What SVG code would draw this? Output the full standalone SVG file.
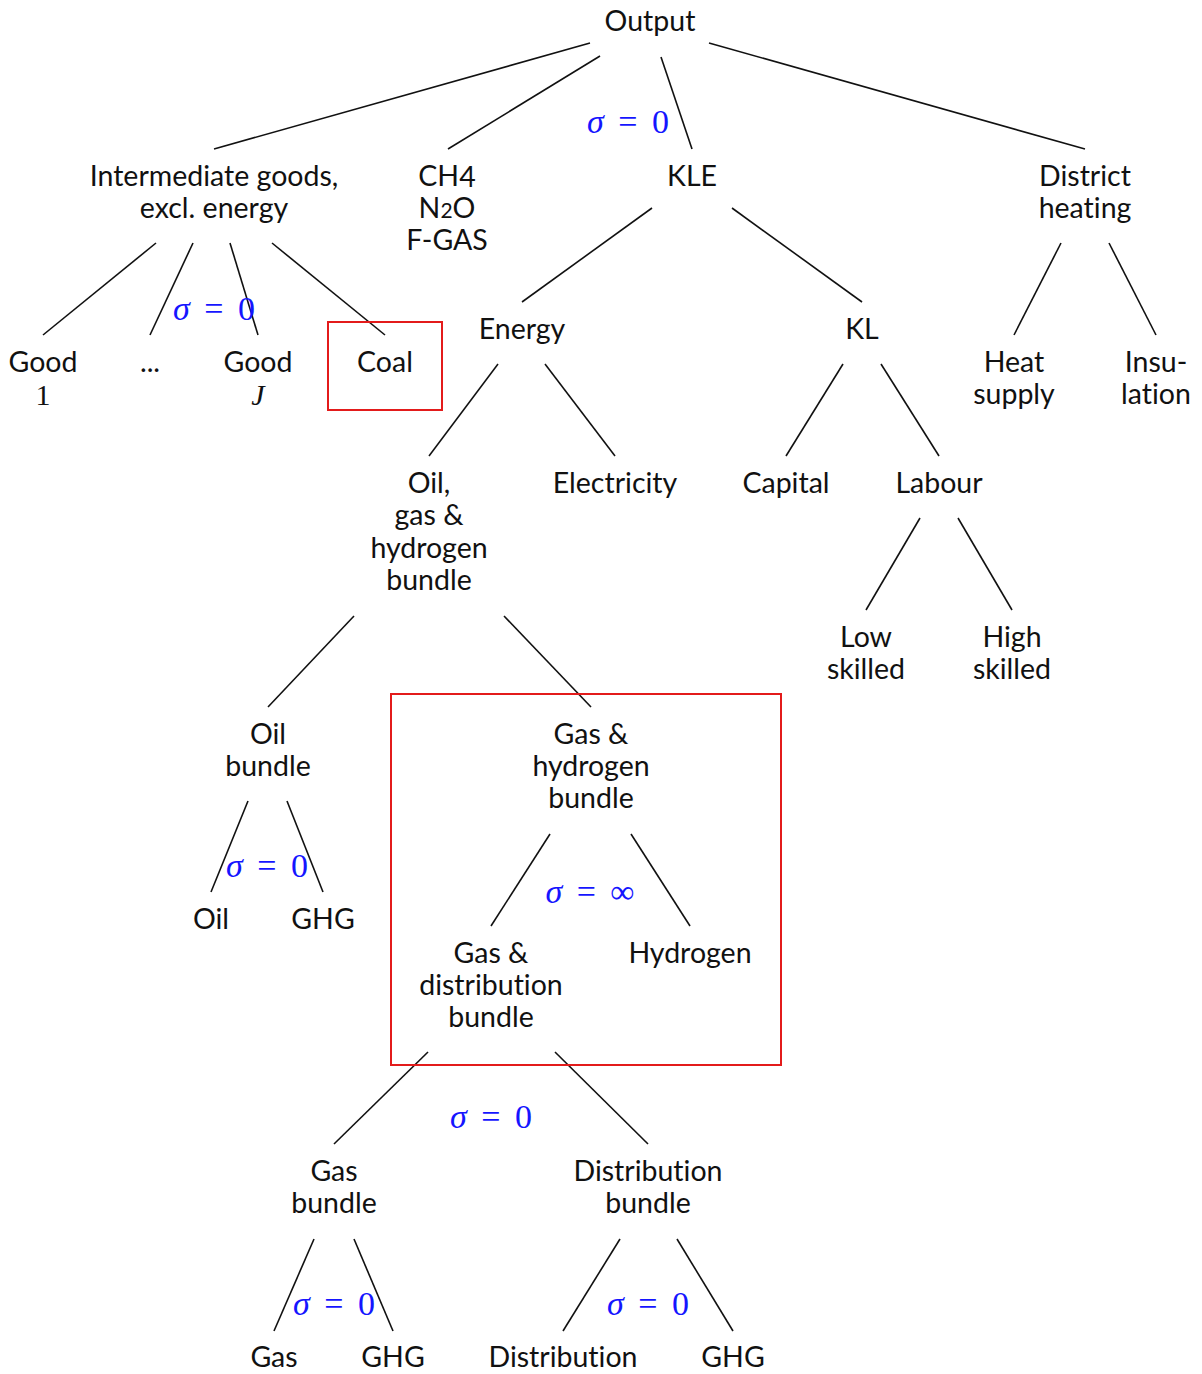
<svg xmlns="http://www.w3.org/2000/svg" width="1202" height="1374" viewBox="0 0 1202 1374">
<style>
.t{font-family:Lato,"Noto Sans","Liberation Sans",sans-serif;font-size:28.5px;fill:#111;text-anchor:middle;font-variant-ligatures:none}
.m{font-family:"Liberation Serif","DejaVu Serif",serif;font-size:30px;fill:#111;text-anchor:middle}
.s{font-family:"Liberation Serif","DejaVu Serif",serif;font-size:34px;fill:#1515ff;text-anchor:middle;word-spacing:6px}
.s tspan.g{font-style:italic}
.e line{stroke:#111;stroke-width:1.6}
.box{fill:none;stroke:#e31b1b;stroke-width:2}
</style>
<rect width="1202" height="1374" fill="#fff"/>
<g class="e" id="connectors">
<line x1="590" y1="43" x2="214" y2="149"/>
<line x1="600" y1="56" x2="448" y2="149"/>
<line x1="661" y1="57" x2="692" y2="149"/>
<line x1="709" y1="43" x2="1085" y2="149"/>
<line x1="156" y1="243" x2="43" y2="335"/>
<line x1="193" y1="243" x2="150" y2="335"/>
<line x1="230" y1="243" x2="258" y2="335"/>
<line x1="272" y1="243" x2="385" y2="335"/>
<line x1="652" y1="208" x2="522" y2="302"/>
<line x1="732" y1="208" x2="862" y2="302"/>
<line x1="1061" y1="243" x2="1014" y2="335"/>
<line x1="1109" y1="243" x2="1156" y2="335"/>
<line x1="498" y1="364" x2="429" y2="456"/>
<line x1="545" y1="364" x2="615" y2="456"/>
<line x1="843" y1="364" x2="786" y2="456"/>
<line x1="881" y1="364" x2="939" y2="456"/>
<line x1="920" y1="518" x2="866" y2="610"/>
<line x1="958" y1="518" x2="1012" y2="610"/>
<line x1="354" y1="616" x2="268" y2="707"/>
<line x1="504" y1="616" x2="591" y2="707"/>
<line x1="248" y1="801" x2="211" y2="892"/>
<line x1="287" y1="801" x2="323" y2="892"/>
<line x1="550" y1="834" x2="491" y2="926"/>
<line x1="631" y1="834" x2="690" y2="926"/>
<line x1="428" y1="1052" x2="334" y2="1144"/>
<line x1="555" y1="1052" x2="648" y2="1144"/>
<line x1="314" y1="1239" x2="274" y2="1331"/>
<line x1="354" y1="1239" x2="393" y2="1331"/>
<line x1="620" y1="1239" x2="563" y2="1331"/>
<line x1="677" y1="1239" x2="733" y2="1331"/>
</g>
<g id="highlights">
<rect class="box" x="328" y="322" width="114" height="88"/>
<rect class="box" x="391" y="694" width="390" height="371"/>
</g>
<g id="sigmas">
<text class="s" x="628" y="133"><tspan class="g">σ</tspan> = 0</text>
<text class="s" x="214" y="320"><tspan class="g">σ</tspan> = 0</text>
<text class="s" x="267" y="877"><tspan class="g">σ</tspan> = 0</text>
<text class="s" x="590" y="903"><tspan class="g">σ</tspan> = ∞</text>
<text class="s" x="491" y="1128"><tspan class="g">σ</tspan> = 0</text>
<text class="s" x="334" y="1315"><tspan class="g">σ</tspan> = 0</text>
<text class="s" x="648" y="1315"><tspan class="g">σ</tspan> = 0</text>
</g>
<g id="n-output"><text class="t" x="650" y="31">Output</text></g>
<g id="n-intermediate"><text class="t" x="214" y="186">Intermediate goods,</text><text class="t" x="214" y="218">excl. energy</text></g>
<g id="n-gases"><text class="t" x="447" y="186">CH<tspan dy="1">4</tspan></text><text class="t" x="447" y="218">N<tspan font-size="21">2</tspan>O</text><text class="t" x="447" y="250">F-GAS</text></g>
<g id="n-kle"><text class="t" x="692" y="186">KLE</text></g>
<g id="n-district"><text class="t" x="1085" y="186">District</text><text class="t" x="1085" y="218">heating</text></g>
<g id="n-good1"><text class="t" x="43" y="372">Good</text><text class="m" x="43" y="405">1</text></g>
<g id="n-dots"><text class="t" x="150" y="372">...</text></g>
<g id="n-goodj"><text class="t" x="258" y="372">Good</text><text class="m" x="258" y="405" font-style="italic">J</text></g>
<g id="n-coal"><text class="t" x="385" y="372">Coal</text></g>
<g id="n-energy"><text class="t" x="522" y="339">Energy</text></g>
<g id="n-kl"><text class="t" x="862" y="339">KL</text></g>
<g id="n-heat"><text class="t" x="1014" y="372">Heat</text><text class="t" x="1014" y="404">supply</text></g>
<g id="n-insulation"><text class="t" x="1156" y="372">Insu-</text><text class="t" x="1156" y="404">lation</text></g>
<g id="n-oilgas"><text class="t" x="429" y="493">Oil,</text><text class="t" x="429" y="525">gas &amp;</text><text class="t" x="429" y="558">hydrogen</text><text class="t" x="429" y="590">bundle</text></g>
<g id="n-electricity"><text class="t" x="615" y="493">Electricity</text></g>
<g id="n-capital"><text class="t" x="786" y="493">Capital</text></g>
<g id="n-labour"><text class="t" x="939" y="493">Labour</text></g>
<g id="n-low"><text class="t" x="866" y="647">Low</text><text class="t" x="866" y="679">skilled</text></g>
<g id="n-high"><text class="t" x="1012" y="647">High</text><text class="t" x="1012" y="679">skilled</text></g>
<g id="n-oilbundle"><text class="t" x="268" y="744">Oil</text><text class="t" x="268" y="776">bundle</text></g>
<g id="n-gashyd"><text class="t" x="591" y="744">Gas &amp;</text><text class="t" x="591" y="776">hydrogen</text><text class="t" x="591" y="808">bundle</text></g>
<g id="n-oil"><text class="t" x="211" y="929">Oil</text></g>
<g id="n-ghg1"><text class="t" x="323" y="929">GHG</text></g>
<g id="n-gasdist"><text class="t" x="491" y="963">Gas &amp;</text><text class="t" x="491" y="995">distribution</text><text class="t" x="491" y="1027">bundle</text></g>
<g id="n-hydrogen"><text class="t" x="690" y="963">Hydrogen</text></g>
<g id="n-gasbundle"><text class="t" x="334" y="1181">Gas</text><text class="t" x="334" y="1213">bundle</text></g>
<g id="n-distbundle"><text class="t" x="648" y="1181">Distribution</text><text class="t" x="648" y="1213">bundle</text></g>
<g id="n-gas"><text class="t" x="274" y="1367">Gas</text></g>
<g id="n-ghg2"><text class="t" x="393" y="1367">GHG</text></g>
<g id="n-distribution"><text class="t" x="563" y="1367">Distribution</text></g>
<g id="n-ghg3"><text class="t" x="733" y="1367">GHG</text></g>
</svg>
